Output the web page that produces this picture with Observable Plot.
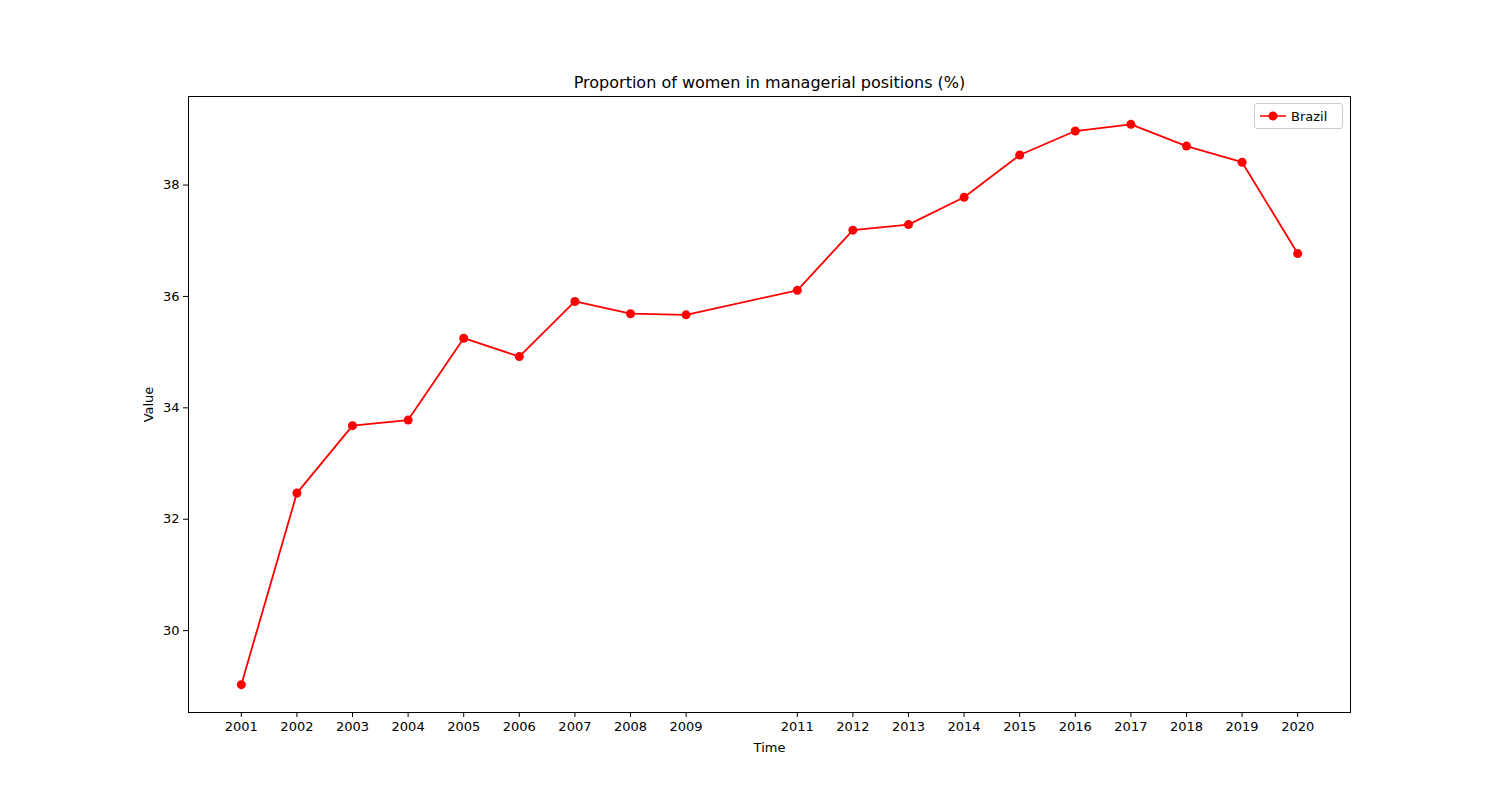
<!DOCTYPE html>
<html><head><meta charset="utf-8">
<script src="https://cdn.jsdelivr.net/npm/d3@7"></script>
<script src="https://cdn.jsdelivr.net/npm/@observablehq/plot@0.6"></script>
<style>
body{margin:0;background:#fff;font-family:"DejaVu Sans",sans-serif}
#wrap{position:relative;width:1500px;height:800px}
#legend{position:absolute;left:1254px;top:103px;width:87px;height:24px;border:1px solid #ccc;border-radius:3px;background:#fff;font-size:13px;display:flex;align-items:center}
</style></head>
<body><div id="wrap"><div id="legend"><svg width="36" height="14"><line x1="5" x2="31" y1="7" y2="7" stroke="red" stroke-width="1.5"/><circle cx="18" cy="7" r="4.5" fill="red"/></svg><span>Brazil</span></div></div>
<script>
const years = [2001,2002,2003,2004,2005,2006,2007,2008,2009,2011,2012,2013,2014,2015,2016,2017,2018,2019,2020];
const values = [29.03,32.47,33.68,33.78,35.25,34.92,35.91,35.69,35.67,36.11,37.19,37.29,37.78,38.54,38.97,39.09,38.70,38.41,36.77];
const data = years.map((t, i) => ({time: t, value: values[i]}));

const chart = Plot.plot({
  width: 1500,
  height: 800,
  marginLeft: 188, marginRight: 150, marginTop: 96, marginBottom: 88,
  style: {fontFamily: "DejaVu Sans, sans-serif", fontSize: "13px", color: "#000", background: "#fff"},
  x: {domain: [2000.05, 2020.95], ticks: years, tickFormat: d => String(d), tickSize: 5, label: "Time", labelAnchor: "center", labelArrow: "none", labelOffset: 39},
  y: {domain: [28.53, 39.59], ticks: [30,32,34,36,38], tickSize: 5, label: "Value", labelAnchor: "center", labelArrow: "none", labelOffset: 45},
  marks: [
    Plot.frame({stroke: "#000"}),
    Plot.line(data, {x: "time", y: "value", stroke: "red", strokeWidth: 1.8}),
    Plot.dot(data, {x: "time", y: "value", fill: "red", r: 4.5}),
    Plot.text(["Proportion of women in managerial positions (%)"], {frameAnchor: "top", dy: -20, fontSize: 16, text: d => d})
  ]
});
document.getElementById("wrap").prepend(chart);
</script>
</body></html>
